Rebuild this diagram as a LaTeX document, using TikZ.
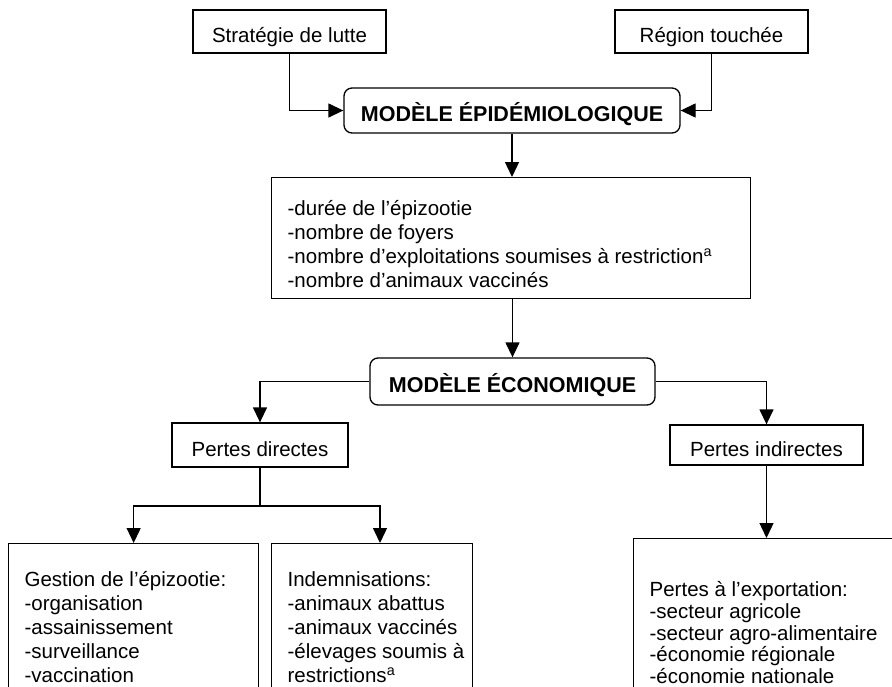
\documentclass[tikz,border=0pt]{standalone}
\usepackage{fontspec}
\setmainfont{Liberation Sans}
\usetikzlibrary{arrows.meta}
\newcommand{\corps}{\fontsize{20.5}{24}\selectfont}
\newcommand{\lignes}[2]{\makebox[#1][l]{\hspace*{16pt}\begin{tabular}[t]{@{}l@{}}#2\end{tabular}}}
\tikzstyle{schema}=[
    x=1pt, y=-1pt,
    line width=1.3pt,
    >={Triangle[length=15pt,width=14pt]},
]
\tikzstyle{boite}=[draw, rectangle, inner sep=0pt, font=\corps, text height=22pt, text depth=0pt]
\tikzstyle{modele}=[boite, rounded corners=8pt, font=\fontsize{21.5}{24}\selectfont\bfseries]
\tikzstyle{liste}=[draw, rectangle, anchor=north west, inner sep=0pt, font=\corps, text depth=200pt]

\begin{document}
\begin{tikzpicture}[schema]
    \path[use as bounding box, clip] (0,0) rectangle (892,686);

    \node[boite, minimum width=193pt, minimum height=43pt] (strategie) at (289.5,31.5) {Stratégie de lutte};
    \node[boite, minimum width=193pt, minimum height=43pt] (region) at (711.5,31.5) {Région touchée};
    \node[modele, minimum width=336pt, minimum height=45pt] (epidemio) at (512,110.5) {MODÈLE ÉPIDÉMIOLOGIQUE};

    \node[liste, text height=38pt, text depth=83pt] (sorties) at (271,177)
        {\lignes{479pt}{-durée de l’épizootie\\-nombre de foyers\\-nombre d’exploitations soumises à restriction\textsuperscript{a}\\-nombre d’animaux vaccinés}};

    \node[modele, minimum width=285pt, minimum height=47pt] (economie) at (512.5,381.5) {MODÈLE ÉCONOMIQUE};
    \node[boite, minimum width=176pt, minimum height=44pt] (directes) at (260,445) {Pertes directes};
    \node[boite, minimum width=193pt, minimum height=40pt] (indirectes) at (766.5,445) {Pertes indirectes};

    \node[liste, text height=43pt] (gestion) at (8,543)
        {\lignes{250pt}{Gestion de l’épizootie:\\-organisation\\-assainissement\\-surveillance\\-vaccination}};
    \node[liste, text height=43pt] (indemn) at (271,543)
        {\lignes{201pt}{Indemnisations:\\-animaux abattus\\-animaux vaccinés\\-élevages soumis à\\restrictions\textsuperscript{a}}};
    \node[liste, text height=58pt, font=\fontsize{20.5}{21.7}\selectfont] (export) at (633,538)
        {\lignes{300pt}{Pertes à l’exportation:\\-secteur agricole\\-secteur agro-alimentaire\\-économie régionale\\-économie nationale}};

    \draw[->] (strategie.south) |- (epidemio.west);
    \draw[->] (region.south) |- (epidemio.east);
    \draw[->] (epidemio.south) -- (epidemio.south |- sorties.north);
    \draw[->] (economie.north |- sorties.south) -- (economie.north);
    \draw[->] (economie.west) -| (directes.north);
    \draw[->] (economie.east) -| (indirectes.north);

    \coordinate (jonction) at (260,506);
    \draw[->] (directes.south) -- (jonction) -| (gestion.north);
    \draw[->] (jonction) -| ([xshift=109pt]indemn.north west);
    \draw[->] (indirectes.south) -- (indirectes.south |- export.north);
\end{tikzpicture}
\end{document}
